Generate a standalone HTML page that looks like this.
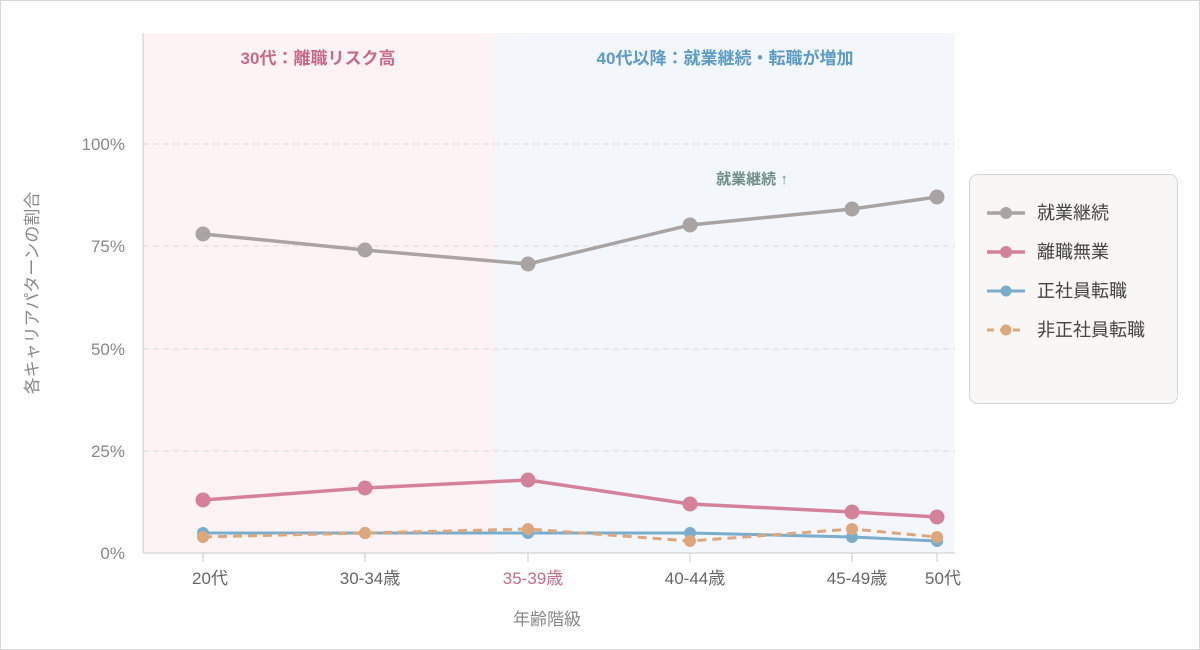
<!DOCTYPE html>
<html><head><meta charset="utf-8"><style>
html,body{margin:0;padding:0;background:#fff}
svg{display:block;font-family:"Liberation Sans","Noto Sans CJK JP",sans-serif}
</style></head><body>
<svg width="1200" height="650" viewBox="0 0 1200 650">
<rect x="0.5" y="0.5" width="1199" height="649" fill="#fff" stroke="#d8d8d8"/>
<rect x="143" y="33" width="352" height="520" fill="#fdf3f4"/>
<rect x="495" y="33" width="460" height="520" fill="#f3f6fb"/>
<g stroke="#dcdcdc" stroke-dasharray="6,4" stroke-width="1">
<line x1="143" y1="144" x2="955" y2="144"/>
<line x1="143" y1="246" x2="955" y2="246"/>
<line x1="143" y1="349" x2="955" y2="349"/>
<line x1="143" y1="451" x2="955" y2="451"/>
</g>
<line x1="143" y1="33" x2="143" y2="553" stroke="#c8c8c8"/>
<line x1="143" y1="553" x2="955" y2="553" stroke="#c8c8c8"/>
<g stroke="#c8c8c8"><line x1="203" y1="553" x2="203" y2="562"/><line x1="365" y1="553" x2="365" y2="562"/><line x1="528" y1="553" x2="528" y2="562"/><line x1="690" y1="553" x2="690" y2="562"/><line x1="852" y1="553" x2="852" y2="562"/><line x1="937" y1="553" x2="937" y2="562"/></g>
<g font-size="17" fill="#888" text-anchor="end">
<text x="125" y="150">100%</text><text x="125" y="252">75%</text><text x="125" y="355">50%</text><text x="125" y="457">25%</text><text x="125" y="559">0%</text>
</g>
<g font-size="17" fill="#666" text-anchor="middle">
<text x="210" y="584">20代</text><text x="370" y="584">30-34歳</text><text x="533" y="584" fill="#c46a8a">35-39歳</text><text x="695" y="584">40-44歳</text><text x="857" y="584">45-49歳</text><text x="943" y="584">50代</text>
<text x="547" y="625" fill="#888">年齢階級</text>
</g>
<text transform="translate(38,293) rotate(-90)" font-size="17" fill="#888" text-anchor="middle">各キャリアパターンの割合</text>
<text x="318" y="64" font-size="17" font-weight="bold" fill="#c46a8a" text-anchor="middle">30代：離職リスク高</text>
<text x="725" y="64" font-size="17" font-weight="bold" fill="#5b9bc4" text-anchor="middle">40代以降：就業継続・転職が増加</text>
<text x="752" y="184" font-size="15" font-weight="bold" fill="#6f8f86" text-anchor="middle">就業継続 ↑</text>
<g fill="none" stroke-width="3.5" stroke-linejoin="round">
<polyline stroke="#a9a4a3" points="203,234 365,250 528,264 690,225 852,209 937,197"/>
<polyline stroke="#d4829c" points="203,500 365,488 528,480 690,504 852,512 937,517"/>
<polyline stroke="#7aaccc" stroke-width="3" points="203,533 365,533 528,533 690,533 852,537 937,541"/>
<polyline stroke="#dca77c" stroke-width="3" stroke-dasharray="9,6" points="203,537 365,533 528,529 690,541 852,529 937,537"/>
</g>
<g fill="#a9a4a3"><circle cx="203" cy="234" r="7.5"/><circle cx="365" cy="250" r="7.5"/><circle cx="528" cy="264" r="7.5"/><circle cx="690" cy="225" r="7.5"/><circle cx="852" cy="209" r="7.5"/><circle cx="937" cy="197" r="7.5"/></g>
<g fill="#d4829c"><circle cx="203" cy="500" r="7.5"/><circle cx="365" cy="488" r="7.5"/><circle cx="528" cy="480" r="7.5"/><circle cx="690" cy="504" r="7.5"/><circle cx="852" cy="512" r="7.5"/><circle cx="937" cy="517" r="7.5"/></g>
<g fill="#7aaccc"><circle cx="203" cy="533" r="6"/><circle cx="365" cy="533" r="6"/><circle cx="528" cy="533" r="6"/><circle cx="690" cy="533" r="6"/><circle cx="852" cy="537" r="6"/><circle cx="937" cy="541" r="6"/></g>
<g fill="#dca77c"><circle cx="203" cy="537" r="6"/><circle cx="365" cy="533" r="6"/><circle cx="528" cy="529" r="6"/><circle cx="690" cy="541" r="6"/><circle cx="852" cy="529" r="6"/><circle cx="937" cy="537" r="6"/></g>
<rect x="969.5" y="174.5" width="208" height="229" rx="8" fill="#f8f7f5" stroke="#d8d6d2"/>
<g stroke-width="3.5">
<line x1="987" y1="213" x2="1025" y2="213" stroke="#a9a4a3"/><circle cx="1006" cy="213" r="6" fill="#a9a4a3"/>
<line x1="987" y1="252" x2="1025" y2="252" stroke="#d4829c"/><circle cx="1006" cy="252" r="6" fill="#d4829c"/>
<line x1="987" y1="291" x2="1025" y2="291" stroke="#7aaccc" stroke-width="3"/><circle cx="1006" cy="291" r="5.5" fill="#7aaccc"/>
<line x1="987" y1="330" x2="1025" y2="330" stroke="#dca77c" stroke-width="3" stroke-dasharray="7,6"/><circle cx="1006" cy="330" r="5.5" fill="#dca77c"/>
</g>
<g font-size="18" fill="#444">
<text x="1037" y="219">就業継続</text><text x="1037" y="258">離職無業</text><text x="1037" y="297">正社員転職</text><text x="1037" y="336">非正社員転職</text>
</g>
</svg>
</body></html>
